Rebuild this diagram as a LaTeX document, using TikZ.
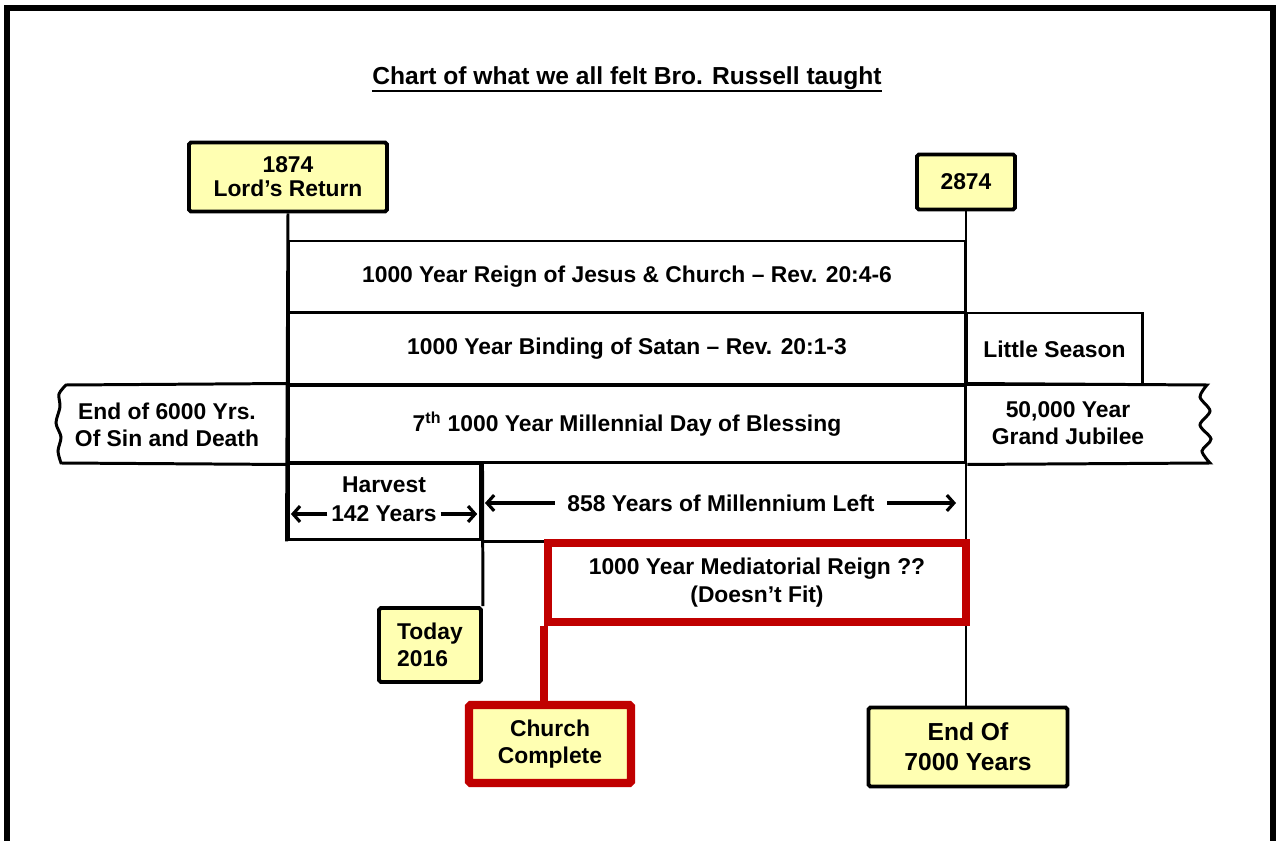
\documentclass[tikz,border=0pt]{standalone}
\usepackage{fontspec}
\setmainfont{Liberation Sans}
\usetikzlibrary{arrows.meta}
\definecolor{boxyellow}{RGB}{255,255,178}
\definecolor{chartred}{RGB}{192,0,0}
\begin{document}
\begin{tikzpicture}[x=0.02cm,y=-0.02cm,
  txt/.style={font=\fontsize{13}{15.5}\selectfont\bfseries, align=center, inner sep=0pt},
  ybox/.style={draw, line width=2.2pt, fill=boxyellow, rounded corners=1pt, txt},
  band/.style={draw, line width=1.7pt, txt},
  tline/.style={line width=1.7pt},
  redbox/.style={draw=chartred, line width=4.8pt, txt},
  redline/.style={draw=chartred, line width=4.8pt},
  arr/.style={line width=1.8pt, -{Straight Barb[length=4pt,width=9pt]}}]
\useasboundingbox (0,0) rectangle (1276,841);
% outer frame
\draw[line width=3.4pt] (7,841) -- (7,8) -- (1273,8) -- (1273,841);
% title
\node[font=\fontsize{14}{17}\selectfont\bfseries, inner sep=0pt] (title) at (627,78) {Chart of what we all felt Bro. Russell taught};
\draw[line width=1.3pt] ([yshift=-0.8pt]title.south west) -- ([yshift=-0.8pt]title.south east);
% bands
\node[band, minimum width=13.56cm, minimum height=1.44cm] (reign) at (627,277) {1000 Year Reign of Jesus \& Church – Rev. 20:4-6};
\node[band, minimum width=13.56cm, minimum height=1.44cm] (binding) at (627,349) {1000 Year Binding of Satan – Rev. 20:1-3};
\node[band, minimum width=3.54cm, minimum height=1.44cm] (little) at (1054.5,349) {Little Season};
\node[band, minimum width=13.56cm, minimum height=1.56cm] (mill) at (627,424) {7\textsuperscript{th} 1000 Year Millennial Day of Blessing};
\node[band, minimum width=3.86cm, minimum height=1.54cm] (harvest) at (384.5,501.5) {};
% wavy ends of the millennial band
\draw[tline] (mill.north west) -- (66,385) -- plot[smooth] coordinates {(66,385) (59,394) (60,407) (56,423) (61,437) (58,451) (61,463)} -- (mill.south west);
\draw[tline] (mill.north east) -- (1207,385) -- plot[smooth] coordinates {(1207,385) (1200,397) (1210,411) (1200,425) (1211,439) (1202,451) (1210,463)} -- (mill.south east);
\node[txt] (endsix) at (167,425) {End of 6000 Yrs.\\Of Sin and Death};
\node[txt] (jubilee) at (1068,423) {50,000 Year\\Grand Jubilee};
% harvest texts and arrows
\node[txt] (harv) at (384,485) {Harvest};
\node[txt, inner sep=2pt] (hy) at (384,514) {142 Years};
\draw[arr] (hy.west) -- ([xshift=2.5pt]harvest.west |- hy.west);
\draw[arr] (hy.east) -- ([xshift=-3pt]harvest.east |- hy.east);
\node[txt] (left858) at (721,503) {858 Years of Millennium Left};
\coordinate (l858) at (485,503);
\coordinate (r858) at (956,503);
\draw[arr] ([xshift=-7pt]left858.west) -- (l858);
\draw[arr] ([xshift=7pt]left858.east) -- (r858);
% yellow boxes
\node[ybox, font=\fontsize{13}{13.8}\selectfont\bfseries, minimum width=3.96cm, minimum height=1.38cm] (n1874) at (288,177) {1874\\Lord’s Return};
\node[ybox, minimum width=1.96cm, minimum height=1.10cm] (n2874) at (966,182) {2874};
\node[ybox, align=left, minimum width=2.04cm, minimum height=1.48cm] (today) at (430,645) {Today\\2016};
\node[ybox, font=\fontsize{14}{17}\selectfont\bfseries, minimum width=3.98cm, minimum height=1.58cm] (end7000) at (968,747) {End Of\\7000 Years};
% timeline lines
\draw[tline] (n1874.south) -- (harvest.south west);
\draw[tline] (n2874.south) -- (n2874.south |- end7000.north);
\draw[tline] (harvest.north east) -- (today.north east);
% red mediatorial box
\node[redbox, fill=white, minimum width=8.36cm, minimum height=1.58cm] (medi) at (757,582.5) {1000 Year Mediatorial Reign ??\\(Doesn’t Fit)};
\draw[tline] (harvest.south east) -- (medi.west |- harvest.south east);
\draw[redline] (medi.south west) -- (medi.south west |- 0,705);
\node[ybox, draw=chartred, line width=4.8pt, minimum width=3.24cm, minimum height=1.56cm] (church) at (550,744) {Church\\Complete};
\end{tikzpicture}
\end{document}
